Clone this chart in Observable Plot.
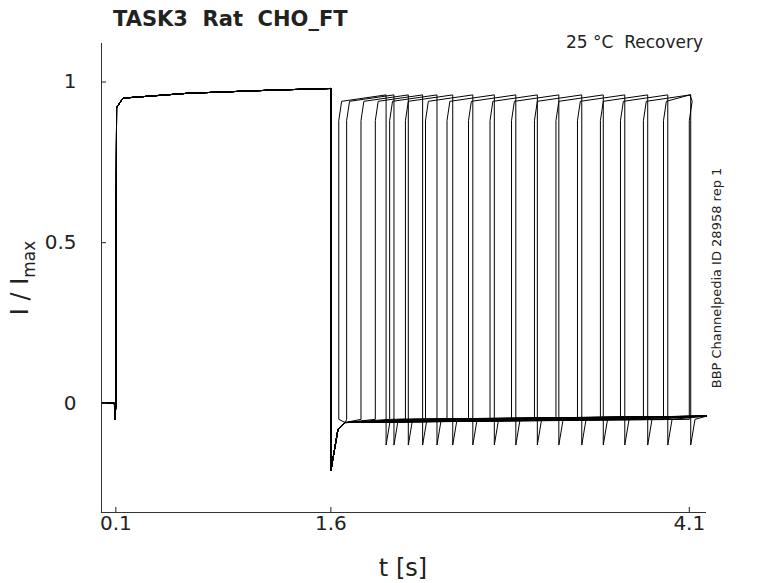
<!DOCTYPE html>
<html><head><meta charset="utf-8">
<script src="https://cdn.jsdelivr.net/npm/d3@7"></script>
<script src="https://cdn.jsdelivr.net/npm/@observablehq/plot@0.6"></script>
<style>body{margin:0;background:#fff}</style></head>
<body><div id="c"></div>
<script>
const onsets=[1.655,1.71,1.81,1.91,2.01,2.12,2.26,2.41,2.56,2.71,2.86,3.02,3.17,3.32,3.48,3.62,3.78,3.92,4.10];
const pulseLen=0.33;
const prePulse=[[0,0],[0.09,0],[0.095,-0.05],[0.1,0],[0.105,0.92],[0.15,0.95],[0.6,0.965],[1.2,0.975],[1.6,0.98],[1.6,-0.21],[1.65,-0.08],[1.7,-0.06]];
const xTicks=[0.1,1.6,4.1], yTicks=[0,0.5,1];
const rows=[];
onsets.forEach((t,k)=>{
  const pts=prePulse.slice();
  pts.push([t,-0.05],[t,0.88],[t+0.02,0.94],[Math.min(t+pulseLen,4.105),0.96]);
  const e=t+pulseLen;
  if(e<4.2){pts.push([e,0.96],[e,-0.13],[e+0.03,-0.05],[4.22,-0.04]);}
  pts.forEach(([x,y])=>rows.push({k,x,y}));
});
const p=Plot.plot({width:778,height:583,marginLeft:101,marginRight:72,marginTop:43,marginBottom:71,
 style:{fontFamily:"DejaVu Sans",fontSize:"20px",color:"#222"},
 x:{domain:[0,4.22],ticks:xTicks,tickFormat:d=>String(d),label:null},
 y:{domain:[-0.34,1.12],ticks:yTicks,tickFormat:d=>String(d),label:null},
 marks:[
  Plot.line(rows,{x:"x",y:"y",z:"k",stroke:"black",strokeWidth:1}),
  Plot.ruleX([0],{stroke:"#333"}),
  Plot.ruleY([-0.34],{stroke:"#333"}),
  Plot.axisX({ticks:xTicks,tickSize:-5,tickPadding:8,fontSize:20,tickFormat:d=>String(d)}),
  Plot.axisY({ticks:yTicks,tickSize:-5,tickPadding:30,fontSize:20,tickFormat:d=>String(d)})
 ]});
document.getElementById("c").appendChild(p);
const s=d3.select(p);
s.selectAll("g[aria-label='x-axis tick label'] text, g[aria-label='y-axis tick label'] text").attr("font-size",20);
s.selectAll("g[aria-label='x-axis tick label'], g[aria-label='y-axis tick label']").attr("font-size",20);
s.append("text").attr("x",113).attr("y",26).attr("text-anchor","start").attr("font-size",21).attr("font-weight","bold").attr("font-family","DejaVu Sans").text("TASK3  Rat  CHO_FT");
s.append("text").attr("x",703).attr("y",48).attr("text-anchor","end").attr("font-size",17).attr("font-family","DejaVu Sans").text("25 °C  Recovery");
s.append("text").attr("transform","translate(721,278) rotate(-90)").attr("text-anchor","middle").attr("font-size",13).attr("font-family","DejaVu Sans").text("BBP Channelpedia ID 28958 rep 1");
s.append("text").attr("x",403).attr("y",576).attr("text-anchor","middle").attr("font-size",24).attr("font-family","DejaVu Sans").text("t [s]");
const yl=s.append("text").attr("transform","translate(28,278) rotate(-90)").attr("text-anchor","middle").attr("font-size",24).attr("font-family","DejaVu Sans");
yl.append("tspan").text("I / I");
yl.append("tspan").attr("font-size",17).attr("dy",7).text("max");
</script></body></html>
